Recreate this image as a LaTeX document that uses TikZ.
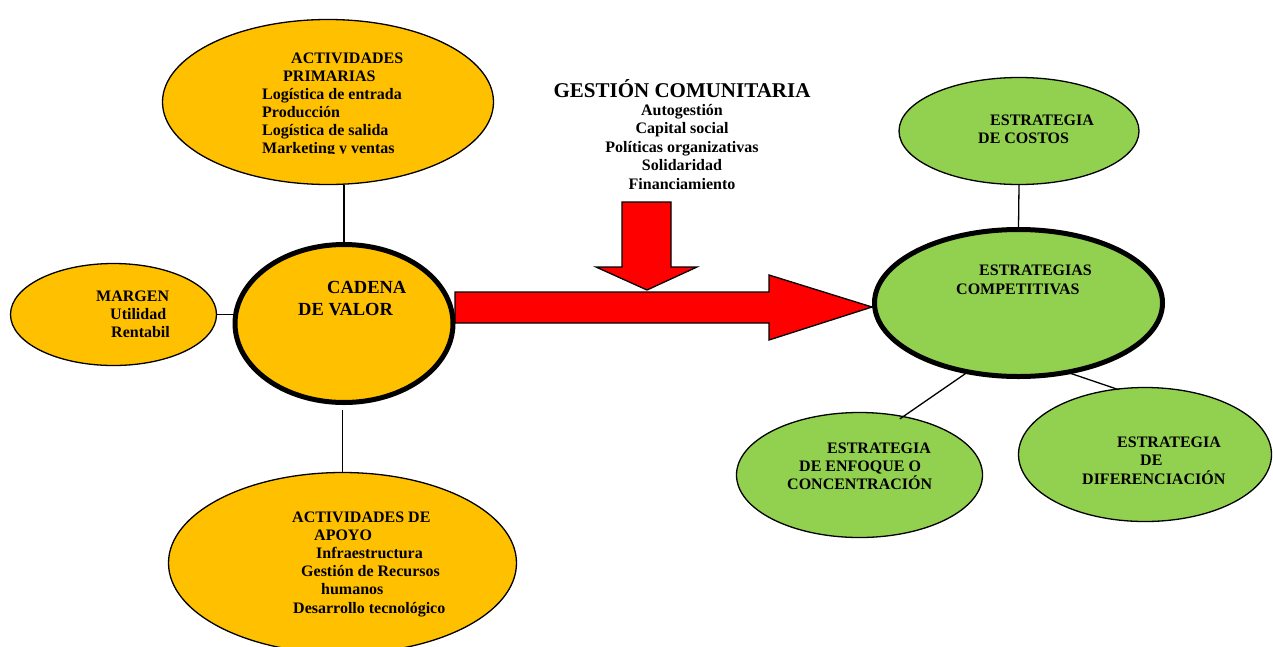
\documentclass[tikz,border=0pt]{standalone}
\usepackage{fontspec}
\setmainfont{Liberation Serif}
\usetikzlibrary{shapes.geometric}
\definecolor{naranja}{HTML}{FFC000}
\definecolor{verde}{HTML}{92D050}
\definecolor{rojo}{HTML}{FF0000}

\begin{document}
\begin{tikzpicture}[x=1pt,y=-1pt,
  ovalo/.style={ellipse,draw,line width=1.3pt,inner sep=0pt},
  gruesa/.style={line width=5pt},
  texto/.style={anchor=base west,align=left,inner sep=0pt,
    font=\fontsize{16}{18.2}\selectfont\bfseries},
  enlace/.style={line width=1.3pt},
  flecha/.style={draw,fill=rojo,line width=1.3pt,line join=miter}]
  \useasboundingbox (0,0) rectangle (1273,646);

  % Value chain side (orange)
  \node[ovalo,fill=naranja,minimum width=331pt,minimum height=165pt] (prim) at (328,102) {};
  \node[ovalo,fill=naranja,minimum width=206pt,minimum height=102pt] (marg) at (113.5,314.5) {};
  \node[ovalo,gruesa,fill=naranja,minimum width=218pt,minimum height=158pt] (cad) at (344,323.5) {};
  \node[ovalo,fill=naranja,minimum width=348pt,minimum height=181pt] (apo) at (342.5,563) {};

  % Strategies side (green)
  \node[ovalo,fill=verde,minimum width=240pt,minimum height=107pt] (cost) at (1019,131) {};
  \node[ovalo,gruesa,fill=verde,minimum width=288pt,minimum height=147pt] (comp) at (1018.5,303) {};
  \node[ovalo,fill=verde,minimum width=246pt,minimum height=125pt] (enf) at (859.5,475) {};
  \node[ovalo,fill=verde,minimum width=253pt,minimum height=134pt] (dif) at (1145,454.5) {};

  % Links
  \draw[enlace] (cad.north) -- (cad.north |- prim.south);
  \draw[enlace] (marg.east) -- (marg.east -| cad.west);
  \draw[enlace,shorten >=5pt] (apo.north) -- (apo.north |- cad.south);
  \draw[enlace] (cost.south) -- (comp.north);
  \draw[enlace,shorten >=-5pt] (comp.-127) -- (enf.53);
  \draw[enlace,shorten <=-9pt,shorten >=-3pt] (comp.-53) -- (dif.114);

  % Red arrows
  \draw[flecha] (455,292) -- (769,292) -- (769,275) -- (872,307) -- (769,340)
    -- (769,323) -- (455,323) -- cycle;
  \draw[flecha] (622,202) -- (671,202) -- (671,267) -- (697,267) -- (647,290)
    -- (596,267) -- (622,267) -- cycle;

  % Texts (placed at the baseline of their last line)
  \begin{scope}
    \clip (150,20) rectangle (500,153.5);
    \node[texto,font=\fontsize{16}{18}\selectfont\bfseries] (tprim) at (262,153)
      {\hspace*{29pt}ACTIVIDADES\\\hspace*{21pt}PRIMARIAS\\
      Logística de entrada\\Producción\\Logística de salida\\Marketing y ventas};
  \end{scope}
  \node[texto,font=\fontsize{16}{18}\selectfont\bfseries] (tmarg) at (96,337)
    {MARGEN\\\hspace*{14pt}Utilidad\\\hspace*{15pt}Rentabil};
  \node[texto,font=\fontsize{18.5}{22}\selectfont\bfseries] (tcad) at (298,315)
    {\hspace*{29pt}CADENA\\DE VALOR};
  \node[texto] (tapo) at (292,613) {ACTIVIDADES DE\\\hspace*{22pt}APOYO\\
    \hspace*{24pt}Infraestructura\\\hspace*{9pt}Gestión de Recursos\\
    \hspace*{29pt}humanos\\\hspace*{1pt}Desarrollo tecnológico};

  \node[anchor=base,inner sep=0pt,font=\fontsize{21}{24}\selectfont\bfseries] (tgest)
    at (682,97) {GESTIÓN COMUNITARIA};
  \node[texto,anchor=base,align=center,font=\fontsize{16}{18.5}\selectfont\bfseries] (tfac)
    at (682,189) {Autogestión\\Capital social\\Políticas organizativas\\Solidaridad\\Financiamiento};

  \node[texto,font=\fontsize{16}{18}\selectfont\bfseries] (tcost) at (978,143)
    {\hspace*{12pt}ESTRATEGIA\\DE COSTOS};
  \node[texto,font=\fontsize{16}{19}\selectfont\bfseries] (tcomp) at (956,294)
    {\hspace*{23pt}ESTRATEGIAS\\COMPETITIVAS};
  \node[texto,font=\fontsize{16}{18}\selectfont\bfseries] (tenf) at (787,489)
    {\hspace*{40pt}ESTRATEGIA\\\hspace*{12pt}DE ENFOQUE O\\CONCENTRACIÓN};
  \node[texto,font=\fontsize{16}{18.5}\selectfont\bfseries] (tdif) at (1082,484)
    {\hspace*{35pt}ESTRATEGIA\\\hspace*{58pt}DE\\DIFERENCIACIÓN};
\end{tikzpicture}
\end{document}
